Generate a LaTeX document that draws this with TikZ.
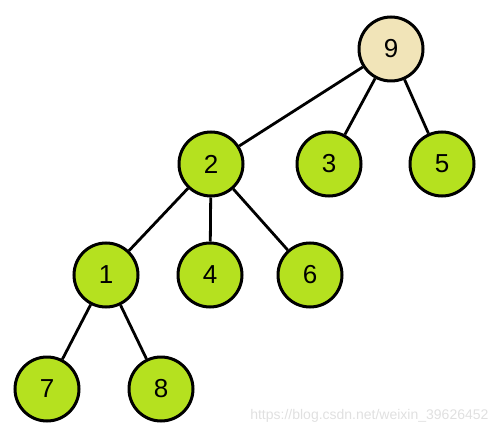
\documentclass[tikz,border=0pt]{standalone}
\usepackage{fontspec}
\setmainfont{Liberation Sans}
\definecolor{leaf}{HTML}{B5E11F}
\definecolor{rootc}{HTML}{F1E4B8}
\begin{document}
\begin{tikzpicture}[x=1pt,y=-1pt,
  nd/.style={circle,draw=black,line width=3pt,fill=leaf,minimum size=64pt,inner sep=0pt,font=\fontsize{26}{26}\selectfont},
  edge/.style={line width=2.8pt,black}]
\useasboundingbox (0,0) rectangle (500,438);
\node[nd,fill=rootc] (n9) at (391,49) {9};
\node[nd] (n2) at (211,164) {2};
\node[nd] (n3) at (329,164) {3};
\node[nd] (n5) at (442,164) {5};
\node[nd] (n1) at (106,275) {1};
\node[nd] (n4) at (210,275) {4};
\node[nd] (n6) at (310,275) {6};
\node[nd] (n7) at (47,389) {7};
\node[nd] (n8) at (161,389) {8};
\draw[edge] (n9) -- (n2);
\draw[edge] (n9) -- (n3);
\draw[edge] (n9) -- (n5);
\draw[edge] (n2) -- (n1);
\draw[edge] (n2) -- (n4);
\draw[edge] (n2) -- (n6);
\draw[edge] (n1) -- (n7);
\draw[edge] (n1) -- (n8);
\node[text=black!12,font=\fontsize{14}{14}\selectfont,anchor=east] (wm) at (492,416) {https://blog.csdn.net/weixin\_39626452};
\end{tikzpicture}
\end{document}
